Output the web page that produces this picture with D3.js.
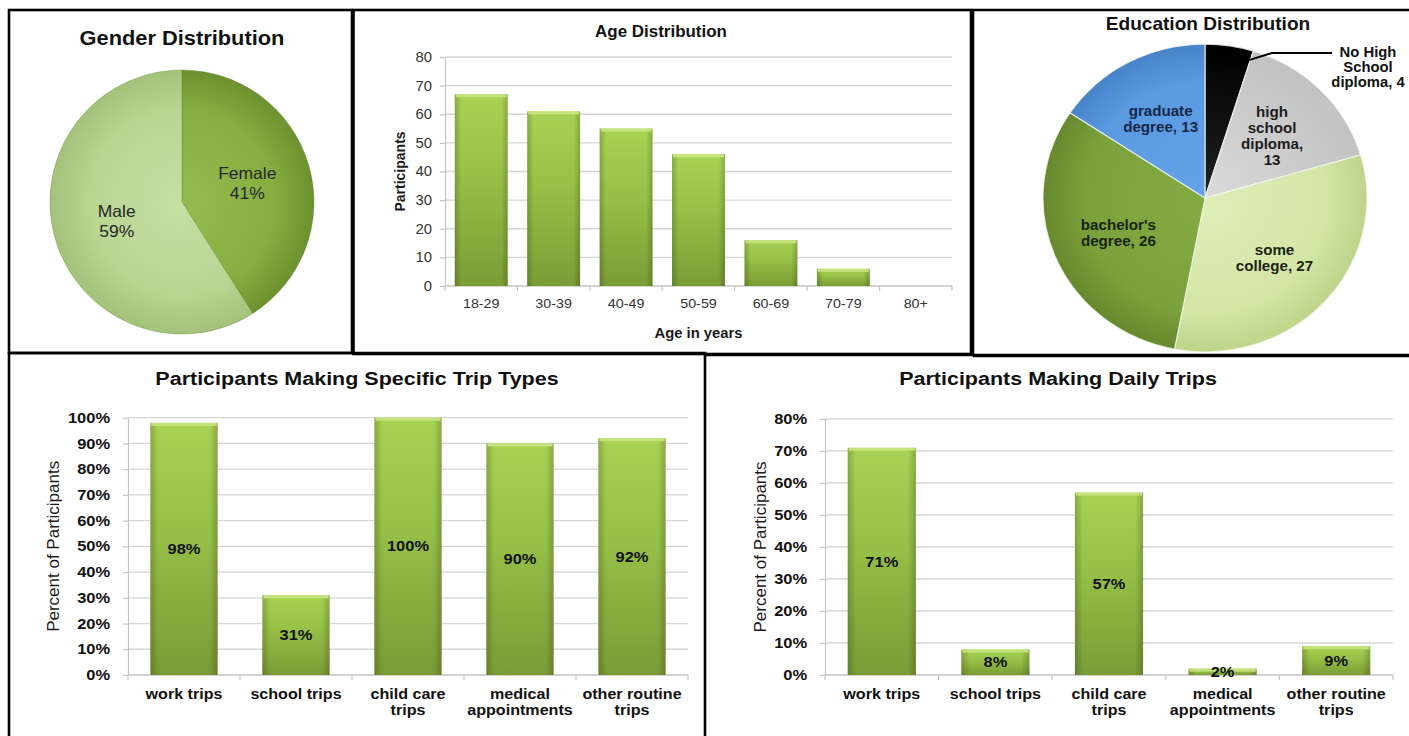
<!DOCTYPE html>
<html>
<head>
<meta charset="utf-8">
<script src="https://cdn.jsdelivr.net/npm/d3@7"></script>
<style>
  html, body { margin: 0; padding: 0; background: #fff; }
  svg { display: block; font-family: "Liberation Sans", Arial, Helvetica, sans-serif; }
</style>
</head>
<body>
<svg id="chart" width="1409" height="736"></svg>
<script>
// ---- Survey data ----
const genderLabels = ["Female", "Male"];
const genderShares = [41, 59];

const ageGroups = ["18-29", "30-39", "40-49", "50-59", "60-69", "70-79", "80+"];
const ageCounts = [67, 61, 55, 46, 16, 6, 0];
const ageTicks = [0, 10, 20, 30, 40, 50, 60, 70, 80];

const educationLevels = ["No High School diploma", "high school diploma", "some college", "bachelor's degree", "graduate degree"];
const educationCounts = [4, 13, 27, 26, 13];
const educationLabelLines = [["No High", "School", "diploma,"], ["high", "school", "diploma,"], ["some", "college,"], ["bachelor's", "degree,"], ["graduate", "degree,"]];
const educationCountOnOwnLine = [false, true, false, false, false];

const tripTypes = ["work trips", "school trips", "child care trips", "medical appointments", "other routine trips"];
const tripTypeLines = [["work trips"], ["school trips"], ["child care", "trips"], ["medical", "appointments"], ["other routine", "trips"]];
const specificTripPct = [98, 31, 100, 90, 92];
const specificTicks = [0, 10, 20, 30, 40, 50, 60, 70, 80, 90, 100];
const dailyTripPct = [71, 8, 57, 2, 9];
const dailyTicks = [0, 10, 20, 30, 40, 50, 60, 70, 80];

// ---- Canvas ----
const W = 1409, H = 736;
const svg = d3.select("#chart");
svg.append("rect").attr("width", W).attr("height", H).attr("fill", "#fff");
const defs = svg.append("defs");

function radialGrad(id, r, stops) {
  const gr = defs.append("radialGradient").attr("id", id)
    .attr("gradientUnits", "userSpaceOnUse").attr("cx", 0).attr("cy", 0).attr("r", r);
  stops.forEach(([o, c]) => gr.append("stop").attr("offset", o).attr("stop-color", c));
}
function linearGrad(id, x2, y2, stops) {
  const gr = defs.append("linearGradient").attr("id", id)
    .attr("x1", 0).attr("y1", 0).attr("x2", x2).attr("y2", y2);
  stops.forEach(([o, c, a]) => gr.append("stop").attr("offset", o).attr("stop-color", c).attr("stop-opacity", a == null ? 1 : a));
}

// bar shading: bright top fading to darker olive at the base, with darker side edges
linearGrad("barFill", 0, 1, [[0, "#a9d355"], [0.45, "#95bf46"], [1, "#7a9c36"]]);
linearGrad("barEdge", 1, 0, [[0, "#000", 0.2], [0.12, "#000", 0], [0.88, "#000", 0], [1, "#000", 0.2]]);

// text helper; (x, y) is the first baseline, sx widens glyphs horizontally
function label(parent, x, y, lines, o) {
  const t = parent.append("text")
    .attr("transform", `translate(${x},${y}) scale(${o.sx || 1},1)`)
    .attr("text-anchor", o.anchor || "middle")
    .attr("font-size", o.size)
    .attr("font-weight", o.weight || "normal")
    .attr("fill", o.color || "#1a1a1a");
  const lh = o.lh || o.size * 1.15;
  lines.forEach((s, i) => t.append("tspan").attr("x", 0).attr("y", i * lh).text(s));
  return t;
}
// block of lines centred vertically on cy
function centeredLabel(parent, cx, cy, lines, o) {
  const lh = o.lh || o.size * 1.15;
  return label(parent, cx, cy - (lines.length - 1) * lh / 2 + 0.36 * o.size, lines, o);
}

// ---- Bar chart panel ----
function barPanel(cfg) {
  const g = svg.append("g");
  const n = cfg.values.length;
  const x = d3.scaleBand().domain(d3.range(n)).range([cfg.left, cfg.right])
    .paddingInner(cfg.pad).paddingOuter(cfg.pad / 2);
  const y = d3.scaleLinear().domain([0, cfg.max]).range([cfg.bottom, cfg.top]);

  g.append("g").selectAll("line").data(cfg.ticks.filter(t => t > 0)).join("line")
    .attr("x1", cfg.left).attr("x2", cfg.right)
    .attr("y1", d => y(d)).attr("y2", d => y(d))
    .attr("stroke", "#d6d6d6").attr("stroke-width", 1.3);

  const ya = g.append("g").attr("transform", `translate(${cfg.left},0)`)
    .call(d3.axisLeft(y).tickValues(cfg.ticks).tickSize(5).tickSizeOuter(0).tickFormat(cfg.fmt));
  ya.attr("font-family", null).attr("font-size", cfg.tickFont).attr("font-weight", cfg.tickWeight);
  ya.select(".domain").attr("stroke", "#c4c4c4").attr("stroke-width", 1.2);
  ya.selectAll(".tick line").attr("stroke", "#c4c4c4").attr("stroke-width", 1.2);
  ya.selectAll(".tick text").attr("fill", cfg.tickColor)
    .attr("x", -cfg.tickGap / cfg.sx).attr("transform", `scale(${cfg.sx},1)`);

  // category axis with ticks on the category boundaries
  const step = x.step();
  g.append("line").attr("x1", cfg.left).attr("x2", cfg.right)
    .attr("y1", y(0)).attr("y2", y(0)).attr("stroke", "#c4c4c4").attr("stroke-width", 1.3);
  g.append("g").selectAll("line").data(d3.range(n + 1)).join("line")
    .attr("x1", i => cfg.left + i * step).attr("x2", i => cfg.left + i * step)
    .attr("y1", y(0)).attr("y2", y(0) + 5)
    .attr("stroke", "#c4c4c4").attr("stroke-width", 1.2);

  const bars = g.append("g").selectAll("g").data(cfg.values).join("g");
  bars.filter(v => v > 0).append("rect")
    .attr("x", (v, i) => x(i)).attr("y", v => y(v))
    .attr("width", x.bandwidth()).attr("height", v => y(0) - y(v))
    .attr("fill", "url(#barFill)");
  bars.filter(v => v > 0).append("rect")
    .attr("x", (v, i) => x(i)).attr("y", v => y(v))
    .attr("width", x.bandwidth()).attr("height", v => y(0) - y(v))
    .attr("fill", "url(#barEdge)");
  bars.filter(v => v > 0).append("rect")
    .attr("x", (v, i) => x(i) + 1).attr("y", v => y(v))
    .attr("width", x.bandwidth() - 2).attr("height", v => Math.min(3, y(0) - y(v)))
    .attr("fill", "#c8e683").attr("opacity", 0.9);

  if (cfg.showValues) {
    cfg.values.forEach((v, i) => {
      centeredLabel(g, x(i) + x.bandwidth() / 2, (y(v) + y(0)) / 2, [v + "%"],
        { size: cfg.valueFont, weight: "bold", sx: cfg.sx, color: "#111" });
    });
  }

  cfg.catLines.forEach((lines, i) => {
    label(g, x(i) + x.bandwidth() / 2, cfg.catY, lines,
      { size: cfg.catFont, weight: cfg.catWeight, sx: cfg.sx, lh: cfg.catLH, color: cfg.catColor });
  });

  label(g, cfg.titleX, cfg.titleY, [cfg.title], { size: cfg.titleFont, weight: "bold", sx: cfg.sx, color: "#111" });

  g.append("text")
    .attr("transform", `translate(${cfg.yTitleX},${(cfg.top + cfg.bottom) / 2}) rotate(-90)`)
    .attr("text-anchor", "middle")
    .attr("font-size", cfg.yTitleFont).attr("font-weight", cfg.yTitleWeight)
    .attr("fill", "#1a1a1a").text(cfg.yTitle);

  if (cfg.xTitle) {
    label(g, (cfg.left + cfg.right) / 2, cfg.xTitleY, [cfg.xTitle],
      { size: cfg.xTitleFont, weight: "bold", sx: cfg.sx, color: "#1a1a1a" });
  }
}

// ---- Gender pie ----
(function () {
  const cx = 182, cy = 202, r = 132;
  const g = svg.append("g").attr("transform", `translate(${cx},${cy})`);
  radialGrad("gFemale", r, [[0, "#94bb4d"], [0.7, "#86ae40"], [1, "#6c912f"]]);
  radialGrad("gMale", r, [[0, "#c6dfa3"], [0.7, "#b9d592"], [1, "#a3c27a"]]);
  const fills = ["url(#gFemale)", "url(#gMale)"];
  const arcs = d3.pie().sort(null).value(d => d)(genderShares);
  const arc = d3.arc().innerRadius(0).outerRadius(r);
  g.selectAll("path").data(arcs).join("path")
    .attr("d", arc).attr("fill", (d, i) => fills[i])
    .attr("stroke", "#5f7f2a").attr("stroke-opacity", 0.35).attr("stroke-width", 1);
  const labelArc = d3.arc().innerRadius(68).outerRadius(68);
  arcs.forEach((d, i) => {
    const [lx, ly] = labelArc.centroid(d);
    centeredLabel(svg, cx + lx, cy + ly, [genderLabels[i], genderShares[i] + "%"],
      { size: 16.5, sx: 1.06, lh: 19.5, color: "#262626" });
  });
  label(svg, 182, 45, ["Gender Distribution"], { size: 20.5, weight: "bold", sx: 1.065, color: "#111" });
})();

// ---- Age distribution ----
barPanel({
  values: ageCounts, catLines: ageGroups.map(d => [d]),
  left: 445, right: 952, top: 57, bottom: 286, max: 80, ticks: ageTicks, pad: 0.27,
  fmt: d => d, tickFont: 14, tickWeight: "normal", tickColor: "#333", tickGap: 13, sx: 1.06,
  catY: 308, catFont: 13.5, catWeight: "normal", catLH: 16, catColor: "#333",
  showValues: false,
  title: "Age Distribution", titleX: 661, titleY: 36.5, titleFont: 16,
  yTitle: "Participants", yTitleX: 405, yTitleFont: 14, yTitleWeight: "bold",
  xTitle: "Age in years", xTitleY: 338, xTitleFont: 14
});

// ---- Education pie ----
(function () {
  const cx = 1205, cy = 198, r = 162, ky = 0.95;
  const g = svg.append("g").attr("transform", `translate(${cx},${cy}) scale(1,${ky})`);
  radialGrad("eNoHS", r, [[0, "#222"], [1, "#000"]]);
  radialGrad("eHS", r, [[0, "#dadada"], [1, "#c2c2c2"]]);
  radialGrad("eSome", r, [[0, "#ddeeb8"], [0.75, "#d3e6a6"], [1, "#bdd489"]]);
  radialGrad("eBach", r, [[0, "#84ab43"], [0.75, "#7aa13b"], [1, "#66892e"]]);
  radialGrad("eGrad", r, [[0, "#64a3e8"], [0.75, "#5a9ae0"], [1, "#4883c8"]]);
  const fills = ["url(#eNoHS)", "url(#eHS)", "url(#eSome)", "url(#eBach)", "url(#eGrad)"];
  const arcs = d3.pie().sort(null).value(d => d)(educationCounts);
  const arc = d3.arc().innerRadius(0).outerRadius(r);
  g.selectAll("path").data(arcs).join("path")
    .attr("d", arc).attr("fill", (d, i) => fills[i])
    .attr("stroke", "#f4f8ec").attr("stroke-opacity", 0.8).attr("stroke-width", 1.2);

  const textColors = ["#111", "#1c1c1c", "#1c2410", "#18230b", "#14284a"];
  const lf = 0.58 * r;
  arcs.forEach((d, i) => {
    const lines = educationLabelLines[i].slice();
    if (educationCountOnOwnLine[i]) lines.push(String(educationCounts[i]));
    else lines[lines.length - 1] += " " + educationCounts[i];
    if (i === 0) {
      // small wedge: label outside with a leader line
      const a = (d.startAngle + d.endAngle) / 2;
      const px = cx + 0.86 * r * Math.sin(a), py = cy - 0.86 * r * ky * Math.cos(a);
      const lx = 1368, ly = 52;
      svg.append("polyline")
        .attr("points", [[px, py], [lx - 96, ly + 1], [lx - 36, ly + 1]].map(p => p.join(",")).join(" "))
        .attr("fill", "none").attr("stroke", "#000").attr("stroke-width", 2);
      label(svg, lx, ly + 5, lines, { size: 14, weight: "bold", sx: 1.06, lh: 15, color: textColors[i] });
    } else {
      const a = (d.startAngle + d.endAngle) / 2;
      const x0 = cx + lf * Math.sin(a), y0 = cy - lf * ky * Math.cos(a);
      centeredLabel(svg, x0, y0, lines, { size: 14.3, weight: "bold", sx: 1.06, lh: 16, color: textColors[i] });
    }
  });
  label(svg, 1208, 29.5, ["Education Distribution"], { size: 18, weight: "bold", sx: 1.06, color: "#111" });
})();

// ---- Trip type panels ----
barPanel({
  values: specificTripPct, catLines: tripTypeLines,
  left: 128, right: 688, top: 417.7, bottom: 675, max: 100, ticks: specificTicks, pad: 0.4,
  fmt: d => d + "%", tickFont: 14.3, tickWeight: "bold", tickColor: "#111", tickGap: 18, sx: 1.15,
  catY: 698.5, catFont: 14, catWeight: "bold", catLH: 17, catColor: "#111",
  showValues: true, valueFont: 14.3,
  title: "Participants Making Specific Trip Types", titleX: 357, titleY: 384.5, titleFont: 18.7,
  yTitle: "Percent of Participants", yTitleX: 59, yTitleFont: 17, yTitleWeight: "normal"
});

barPanel({
  values: dailyTripPct, catLines: tripTypeLines,
  left: 825, right: 1393, top: 419, bottom: 675, max: 80, ticks: dailyTicks, pad: 0.4,
  fmt: d => d + "%", tickFont: 14.3, tickWeight: "bold", tickColor: "#111", tickGap: 18, sx: 1.15,
  catY: 698.5, catFont: 14, catWeight: "bold", catLH: 17, catColor: "#111",
  showValues: true, valueFont: 14.3,
  title: "Participants Making Daily Trips", titleX: 1058, titleY: 384.5, titleFont: 18.7,
  yTitle: "Percent of Participants", yTitleX: 766, yTitleFont: 17, yTitleWeight: "normal"
});

// ---- Panel frames ----
const frames = svg.append("g").attr("fill", "none").attr("stroke", "#000").attr("stroke-width", 2.6);
frames.append("rect").attr("x", 9).attr("y", 10).attr("width", 343).attr("height", 343);
frames.append("rect").attr("x", 353.5).attr("y", 10).attr("width", 617.5).attr("height", 344);
frames.append("path").attr("d", "M973,356V10H1412M973,356H1412");
frames.append("path").attr("d", "M9,740V353H705V740");
frames.append("path").attr("d", "M705,355H1412");
</script>
</body>
</html>
